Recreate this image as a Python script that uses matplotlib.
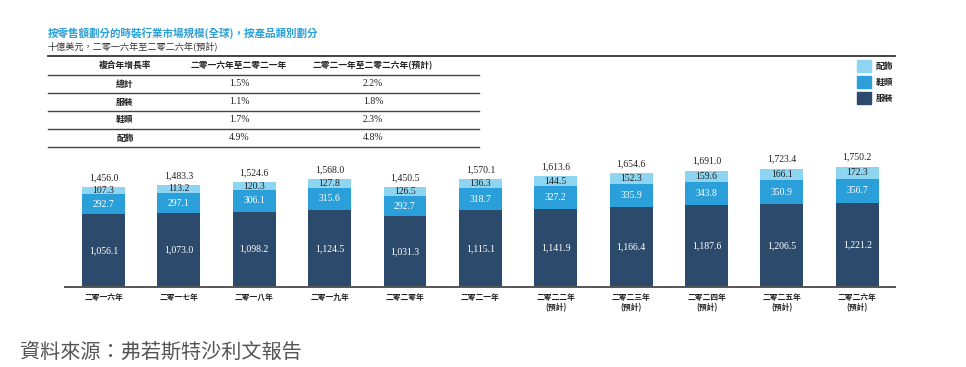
import matplotlib
matplotlib.use("Agg")
import matplotlib.pyplot as plt

# datos del grafico
anios = ["二零一六年", "二零一七年", "二零一八年", "二零一九年", "二零二零年", "二零二一年",
         "二零二二年\n(預計)", "二零二三年\n(預計)", "二零二四年\n(預計)",
         "二零二五年\n(預計)", "二零二六年\n(預計)"]
ropa = [1056.1, 1073.0, 1098.2, 1124.5, 1031.3, 1115.1, 1141.9, 1166.4, 1187.6, 1206.5, 1221.2]
calzado = [292.7, 297.1, 306.1, 315.6, 292.7, 318.7, 327.2, 335.9, 343.8, 350.9, 356.7]
accesorios = [107.3, 113.2, 120.3, 127.8, 126.5, 136.3, 144.5, 152.3, 159.6, 166.1, 172.3]
totales = [1456.0, 1483.3, 1524.6, 1568.0, 1450.5, 1570.1, 1613.6, 1654.6, 1691.0, 1723.4, 1750.2]

series = ["服裝", "鞋類", "配飾"]

tabla_cols = ["複合年增長率", "二零一六年至二零二一年", "二零二一年至二零二六年(預計)"]
tabla_filas = ["總計", "服裝", "鞋類", "配飾"]
cagr_1621 = ["1.5%", "1.1%", "1.7%", "4.9%"]
cagr_2126 = ["2.2%", "1.8%", "2.3%", "4.8%"]

titulo = "按零售額劃分的時裝行業市場規模(全球)，按產品類別劃分"
subtitulo = "十億美元，二零一六年至二零二六年(預計)"
fuente = "資料來源：弗若斯特沙利文報告"

c_oscuro = "#2c4b6c"
c_medio = "#2b9fd9"
c_claro = "#8ed5f2"
c_linea = "#444444"

cjk = ["Noto Sans CJK TC", "DejaVu Sans"]
num = ["Liberation Serif", "Noto Sans CJK TC"]

W, H = 966, 367
fig = plt.figure(figsize=(W / 100, H / 100), dpi=100)


def fx(x):
    return x / W


def fy(y):
    return 1 - y / H


# titulos
fig.text(fx(48), fy(33), titulo, color="#2a9fd8", fontsize=7.6, family=cjk,
         fontweight="bold", va="center", ha="left")
fig.text(fx(48), fy(46), subtitulo, color="#333333", fontsize=6.6, family=cjk,
         va="center", ha="left")

# tabla
fig.add_artist(plt.Line2D([fx(48), fx(895)], [fy(55.5), fy(55.5)], color=c_linea, lw=1.4))
for yl in [74.7, 92.7, 110.7, 128.7, 146.7]:
    fig.add_artist(plt.Line2D([fx(48), fx(479)], [fy(yl), fy(yl)], color=c_linea, lw=1.0))

col_x = [125, 239, 373]
for j, c in enumerate(tabla_cols):
    fig.text(fx(col_x[j]), fy(65.5), c, fontsize=6.3, family=cjk, fontweight="bold",
             ha="center", va="center", color="#222222")
for i, f in enumerate(tabla_filas):
    yy = 84 + i * 18
    fig.text(fx(col_x[0]), fy(yy), f, fontsize=6.3, family=cjk, fontweight="bold",
             ha="center", va="center", color="#222222")
    fig.text(fx(col_x[1]), fy(yy), cagr_1621[i], fontsize=7, family=num,
             ha="center", va="center", color="#222222")
    fig.text(fx(col_x[2]), fy(yy), cagr_2126[i], fontsize=7, family=num,
             ha="center", va="center", color="#222222")

# grafico de barras
ax = fig.add_axes([fx(65), fy(287), fx(895) - fx(65), (287 - 150) / H])
x = list(range(len(anios)))
base2 = [a + b for a, b in zip(ropa, calzado)]
ax.bar(x, ropa, width=0.57, color=c_oscuro, label=series[0])
ax.bar(x, calzado, width=0.57, bottom=ropa, color=c_medio, label=series[1])
ax.bar(x, accesorios, width=0.57, bottom=base2, color=c_claro, label=series[2])

for i in x:
    ax.text(i, ropa[i] / 2, f"{ropa[i]:,.1f}", ha="center", va="center",
            color="white", fontsize=7, family=num)
    ax.text(i, ropa[i] + calzado[i] / 2, f"{calzado[i]:,.1f}", ha="center", va="center",
            color="white", fontsize=7, family=num)
    ax.text(i, base2[i] + accesorios[i] / 2, f"{accesorios[i]:,.1f}", ha="center",
            va="center", color="#222222", fontsize=7, family=num)
    ax.text(i, totales[i] + 140, f"{totales[i]:,.1f}", ha="center", va="center",
            color="#222222", fontsize=7, family=num)

ax.set_xlim(-0.51, 10.5)
ax.set_ylim(0, 1993)
ax.set_xticks(x)
ax.set_xticklabels(anios, fontsize=5.6, family=cjk, fontweight="bold",
                   color="#222222", linespacing=1.3)
ax.tick_params(axis="x", length=0, pad=4)
ax.set_yticks([])
for s in ["top", "right", "left"]:
    ax.spines[s].set_visible(False)
ax.spines["bottom"].set_color("#555555")
ax.spines["bottom"].set_linewidth(1.4)
ax.patch.set_alpha(0)

# leyenda
ley_col = [c_claro, c_medio, c_oscuro]
ley_txt = ["配飾", "鞋類", "服裝"]
for k in range(3):
    yc = 66 + k * 16
    fig.add_artist(plt.Rectangle((fx(857), fy(yc + 6)), fx(14), 12 / H,
                                 color=ley_col[k]))
    fig.text(fx(876), fy(yc), ley_txt[k], fontsize=6.3, family=cjk,
             fontweight="bold", va="center", ha="left", color="#222222")

# fuente
fig.text(fx(20), fy(352), fuente, fontsize=14.5, family=cjk, style="italic",
         color="#555555", va="center", ha="left")

fig.savefig("out.png", dpi=100)
